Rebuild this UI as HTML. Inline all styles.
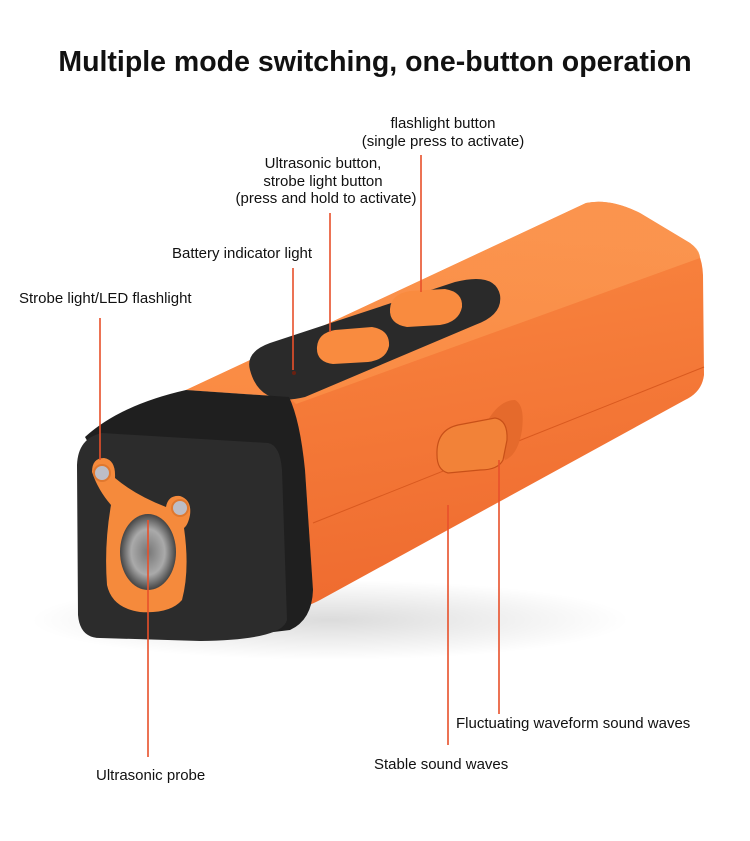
<!DOCTYPE html>
<html><head><meta charset="utf-8"><style>
html,body{margin:0;padding:0;background:#fff;}
body{width:750px;height:841px;overflow:hidden;}
svg{display:block;}
text{font-family:"Liberation Sans",Arial,sans-serif;fill:#111;}
</style></head><body>
<svg width="750" height="841" viewBox="0 0 750 841" xmlns="http://www.w3.org/2000/svg">
<defs>
<linearGradient id="side" x1="0" y1="0" x2="0.2" y2="1">
<stop offset="0" stop-color="#fb8a42"/><stop offset="1" stop-color="#ef6c30"/></linearGradient>
<linearGradient id="top" x1="0" y1="1" x2="0.3" y2="0">
<stop offset="0" stop-color="#fb8c44"/><stop offset="1" stop-color="#fb9650"/></linearGradient>
<radialGradient id="shadow" cx="0.5" cy="0.5" r="0.5">
<stop offset="0" stop-color="#000" stop-opacity="0.14"/><stop offset="1" stop-color="#000" stop-opacity="0"/></radialGradient>
<radialGradient id="mesh" cx="0.5" cy="0.5" r="0.5">
<stop offset="0" stop-color="#777"/><stop offset="0.6" stop-color="#aaa"/><stop offset="1" stop-color="#444"/></radialGradient>
</defs>
<text x="375" y="71" text-anchor="middle" font-size="28.5" font-weight="bold">Multiple mode switching, one-button operation</text>

<ellipse cx="330" cy="620" rx="300" ry="40" fill="url(#shadow)"/>
<path d="M186,390 L586,203 Q610,198 640,213 L690,243 Q702,252 703,275 L704,375 Q702,392 685,400 L320,600 Q305,608 296,607 L289,397 Z" fill="url(#side)"/>
<path d="M186,390 L586,203 Q610,198 640,213 L690,243 Q700,250 700,258 L296,404 L289,397 Z" fill="url(#top)" opacity="0.9"/>
<path d="M313,523 L704,367" stroke="#d9591f" stroke-width="1" fill="none"/>
<path d="M250,370 Q245,352 270,343 L455,282 Q495,272 500,295 Q503,315 475,325 L305,397 Q260,408 250,370 Z" fill="#2a2a2a"/>
<path d="M317,347 Q318,333 335,330 L372,327 Q390,330 389,346 Q386,360 368,362 L333,364 Q316,362 317,347 Z" fill="#f98b3f"/>
<path d="M390,309 Q391,294 410,291 L445,289 Q463,292 462,307 Q459,322 440,325 L407,327 Q389,324 390,309 Z" fill="#f98b3f"/>
<circle cx="294" cy="373" r="2" fill="#6a2010"/>
<path d="M85,437 Q120,405 186,390 L289,397 Q300,420 305,470 L313,590 Q312,620 290,630 L200,641 Z" fill="#1f1f1f"/>
<path d="M102,433 Q78,438 77,465 L78,615 Q80,638 100,638 L200,641 Q282,640 287,620 L282,470 Q280,445 268,443 Z" fill="#2c2c2c"/>
<path d="M92,472 Q92,458 104,458 Q116,460 115,478 Q135,495 166,507 Q168,495 180,496 Q192,500 190,515 Q188,525 184,528 Q190,570 182,600 Q170,614 140,612 Q112,608 107,585 Q104,545 111,505 Q98,490 92,472 Z" fill="#f58a3c"/>
<circle cx="102" cy="473" r="8" fill="#bdbdc6" stroke="#e0782f" stroke-width="2"/>
<circle cx="180" cy="508" r="8" fill="#bdbdc6" stroke="#e0782f" stroke-width="2"/>
<ellipse cx="148" cy="552" rx="28" ry="38" fill="url(#mesh)"/>
<path d="M488,420 Q500,400 515,400 Q525,405 522,430 Q518,455 505,460 Z" fill="#e56a2c"/>
<path d="M437,455 Q436,430 458,425 L495,418 Q508,420 507,440 L503,460 Q498,470 480,470 L448,473 Q437,470 437,455 Z" fill="#f28238" stroke="#c85018" stroke-width="1.2"/>

<g stroke="#e8502a" stroke-width="1.6">
<line x1="100" y1="318" x2="100" y2="460"/>
<line x1="293" y1="268" x2="293" y2="370"/>
<line x1="330" y1="213" x2="330" y2="332"/>
<line x1="421" y1="155" x2="421" y2="292"/>
<line x1="148" y1="520" x2="148" y2="757"/>
<line x1="448" y1="505" x2="448" y2="745"/>
<line x1="499" y1="460" x2="499" y2="714"/>
</g>

<g font-size="15">
<text x="443" y="128" text-anchor="middle">flashlight button</text>
<text x="443" y="146" text-anchor="middle">(single press to activate)</text>
<text x="323" y="168" text-anchor="middle">Ultrasonic button,</text>
<text x="323" y="186" text-anchor="middle">strobe light button</text>
<text x="326" y="203" text-anchor="middle">(press and hold to activate)</text>
<text x="172" y="258">Battery indicator light</text>
<text x="19" y="303">Strobe light/LED flashlight</text>
<text x="96" y="780">Ultrasonic probe</text>
<text x="374" y="769">Stable sound waves</text>
<text x="456" y="728">Fluctuating waveform sound waves</text>
</g>
</svg>
</body></html>
